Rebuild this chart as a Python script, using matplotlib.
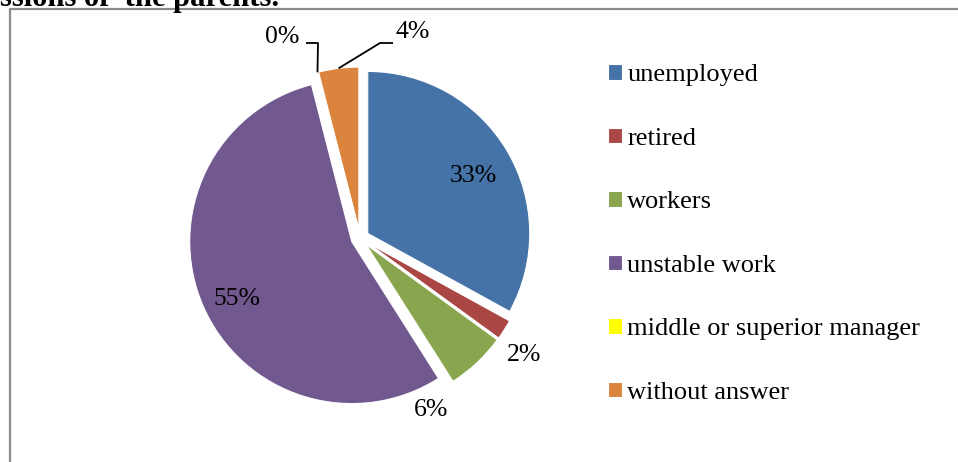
import matplotlib
matplotlib.use('Agg')
import matplotlib.pyplot as plt
import numpy as np

plt.rcParams['font.family'] = ['Liberation Serif', 'DejaVu Serif']

# ---- data ----
categories = ['unemployed', 'retired', 'workers', 'unstable work',
              'middle or superior manager', 'without answer']
values = [33, 2, 6, 55, 0, 4]
pct_labels = ['33%', '2%', '6%', '55%', '0%', '4%']
colors = ['#4572A7', '#AA4643', '#89A54E', '#71588F', '#FFFF00', '#DB843D']
title_text = 'ssions of  the parents.'

# ---- layout (pixel space) ----
W, H = 958, 462
fig = plt.figure(figsize=(W / 100, H / 100), dpi=100)
ax = fig.add_axes([0, 0, 1, 1])

cx, cy = 360, H - 238
R = 162
wedges, _ = ax.pie(values, colors=colors, startangle=90, counterclock=False,
                   radius=R, center=(cx, cy), explode=[9] * len(values),
                   wedgeprops=dict(edgecolor='white', linewidth=0.8))
ax.set_xlim(0, W)
ax.set_ylim(0, H)
ax.set_aspect('equal')
ax.axis('off')

FS = 18.5
# label baseline positions (pixel, y measured from top)
label_pos = [(473, 182), (524, 361), (431, 416.5), (237, 305), (282.5, 43), (412.5, 38)]
for txt, (lx, ly) in zip(pct_labels, label_pos):
    ax.text(lx, H - ly, txt, ha='center', va='baseline', fontsize=FS, color='black')

# leader lines for the tiny slices
def arc_point(w):
    th = np.deg2rad((w.theta1 + w.theta2) / 2)
    return w.center[0] + w.r * np.cos(th), w.center[1] + w.r * np.sin(th)

leaders = {4: [(318, 43), (306, 43)], 5: [(380, 43), (393, 43)]}
for idx, pts in leaders.items():
    px, py = arc_point(wedges[idx])
    xs = [px] + [p[0] for p in pts]
    ys = [py] + [H - p[1] for p in pts]
    ax.plot(xs, ys, color='black', lw=1.3, solid_capstyle='butt')

# chart frame (extends beyond the right and bottom of the picture)
ax.plot([10, 10, W + 10], [-10, H - 9, H - 9], color='#8c8c8c', lw=1.6,
        clip_on=False)

# cut-off title
fig.text(279 / W, (H - 6) / H, title_text, ha='right', va='baseline',
         fontsize=22, fontweight='bold')

leg = ax.legend(wedges, categories, loc='upper left',
                bbox_to_anchor=(608 / W, (H - 64) / H), frameon=False,
                fontsize=19, handlelength=0.53, handleheight=0.53,
                handletextpad=0.2, labelspacing=1.57, borderpad=0,
                borderaxespad=0)

fig.savefig('out.png', dpi=100)
